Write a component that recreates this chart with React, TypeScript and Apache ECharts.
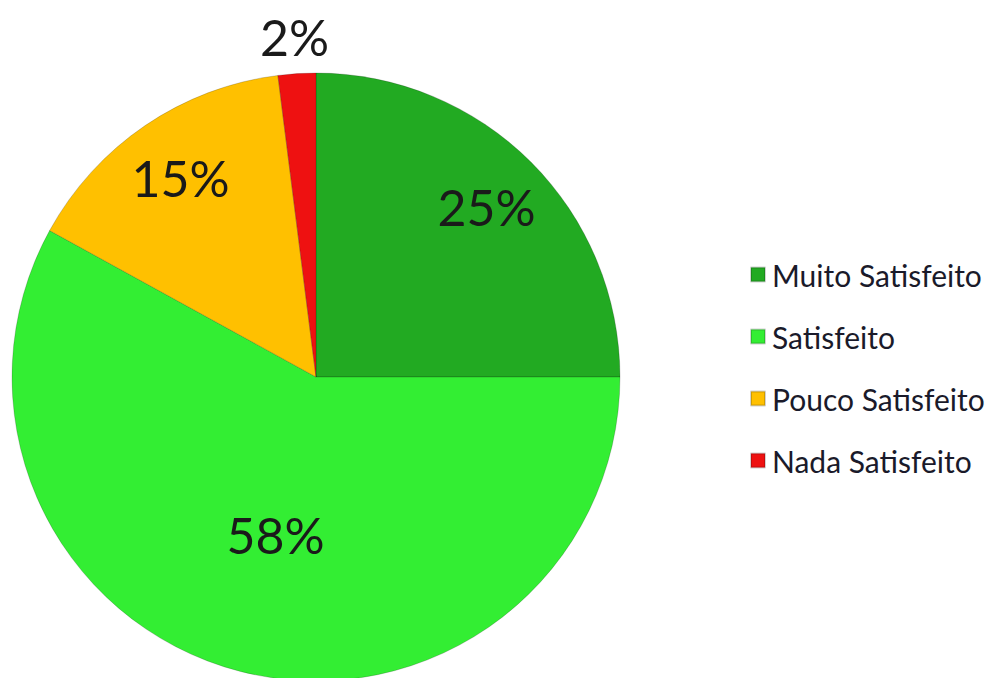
import React, { useEffect, useRef } from "react";
import * as echarts from "echarts";

const categories = ["Muito Satisfeito", "Satisfeito", "Pouco Satisfeito", "Nada Satisfeito"];
const values = [25, 58, 15, 2];
const colors = ["#22aa22", "#33ee33", "#ffc000", "#ee1111"];
// which label ring each slice's label sits on
const labelRing = ["mid", "inner", "mid", "outer"];

export default function App() {
  const ref = useRef<HTMLDivElement>(null);
  useEffect(() => {
    document.body.style.margin = "0";
    const chart = echarts.init(ref.current!, null, { renderer: "svg" });
    const center = [316, 377];
    const R = 304;
    const labelStyle = {
      fontFamily: "Lato",
      fontSize: 50,
      color: "#1a1a1a",
      formatter: "{d}%",
    };
    const labelSeries = (ring: string, radius: number[]) => ({
      type: "pie",
      center,
      radius,
      startAngle: 90,
      clockwise: true,
      silent: true,
      z: 5,
      legendHoverLink: false,
      emphasis: { disabled: true },
      itemStyle: { color: "transparent", borderWidth: 0 },
      labelLine: { show: false },
      data: categories.map((name, i) => ({
        name,
        value: values[i],
        label: { show: labelRing[i] === ring, position: "inside", ...labelStyle },
      })),
    });
    chart.setOption({
      animation: false,
      backgroundColor: "#ffffff",
      legend: {
        orient: "vertical",
        left: 745,
        top: 254,
        itemWidth: 14,
        itemHeight: 14,
        itemGap: 31,
        icon: "rect",
        selectedMode: false,
        data: categories,
        textStyle: {
          fontFamily: "Lato",
          fontSize: 30,
          lineHeight: 31,
          color: "#1a1a2a",
          padding: [0, 0, 0, 2],
        },
      },
      series: [
        {
          type: "pie",
          center,
          radius: [0, R],
          startAngle: 90,
          clockwise: true,
          emphasis: { disabled: true },
          label: { show: false },
          labelLine: { show: false },
          itemStyle: { borderColor: "rgba(0,0,0,0.18)", borderWidth: 1 },
          data: categories.map((name, i) => ({
            name,
            value: values[i],
            itemStyle: { color: colors[i] },
          })),
        },
        labelSeries("mid", [172, 304]),
        labelSeries("inner", [30, 290]),
        labelSeries("outer", [304, 372]),
      ],
    });
    return () => chart.dispose();
  }, []);
  return (
    <div
      ref={ref}
      style={{ position: "fixed", left: 0, top: 0, width: 1003, height: 678 }}
    />
  );
}
